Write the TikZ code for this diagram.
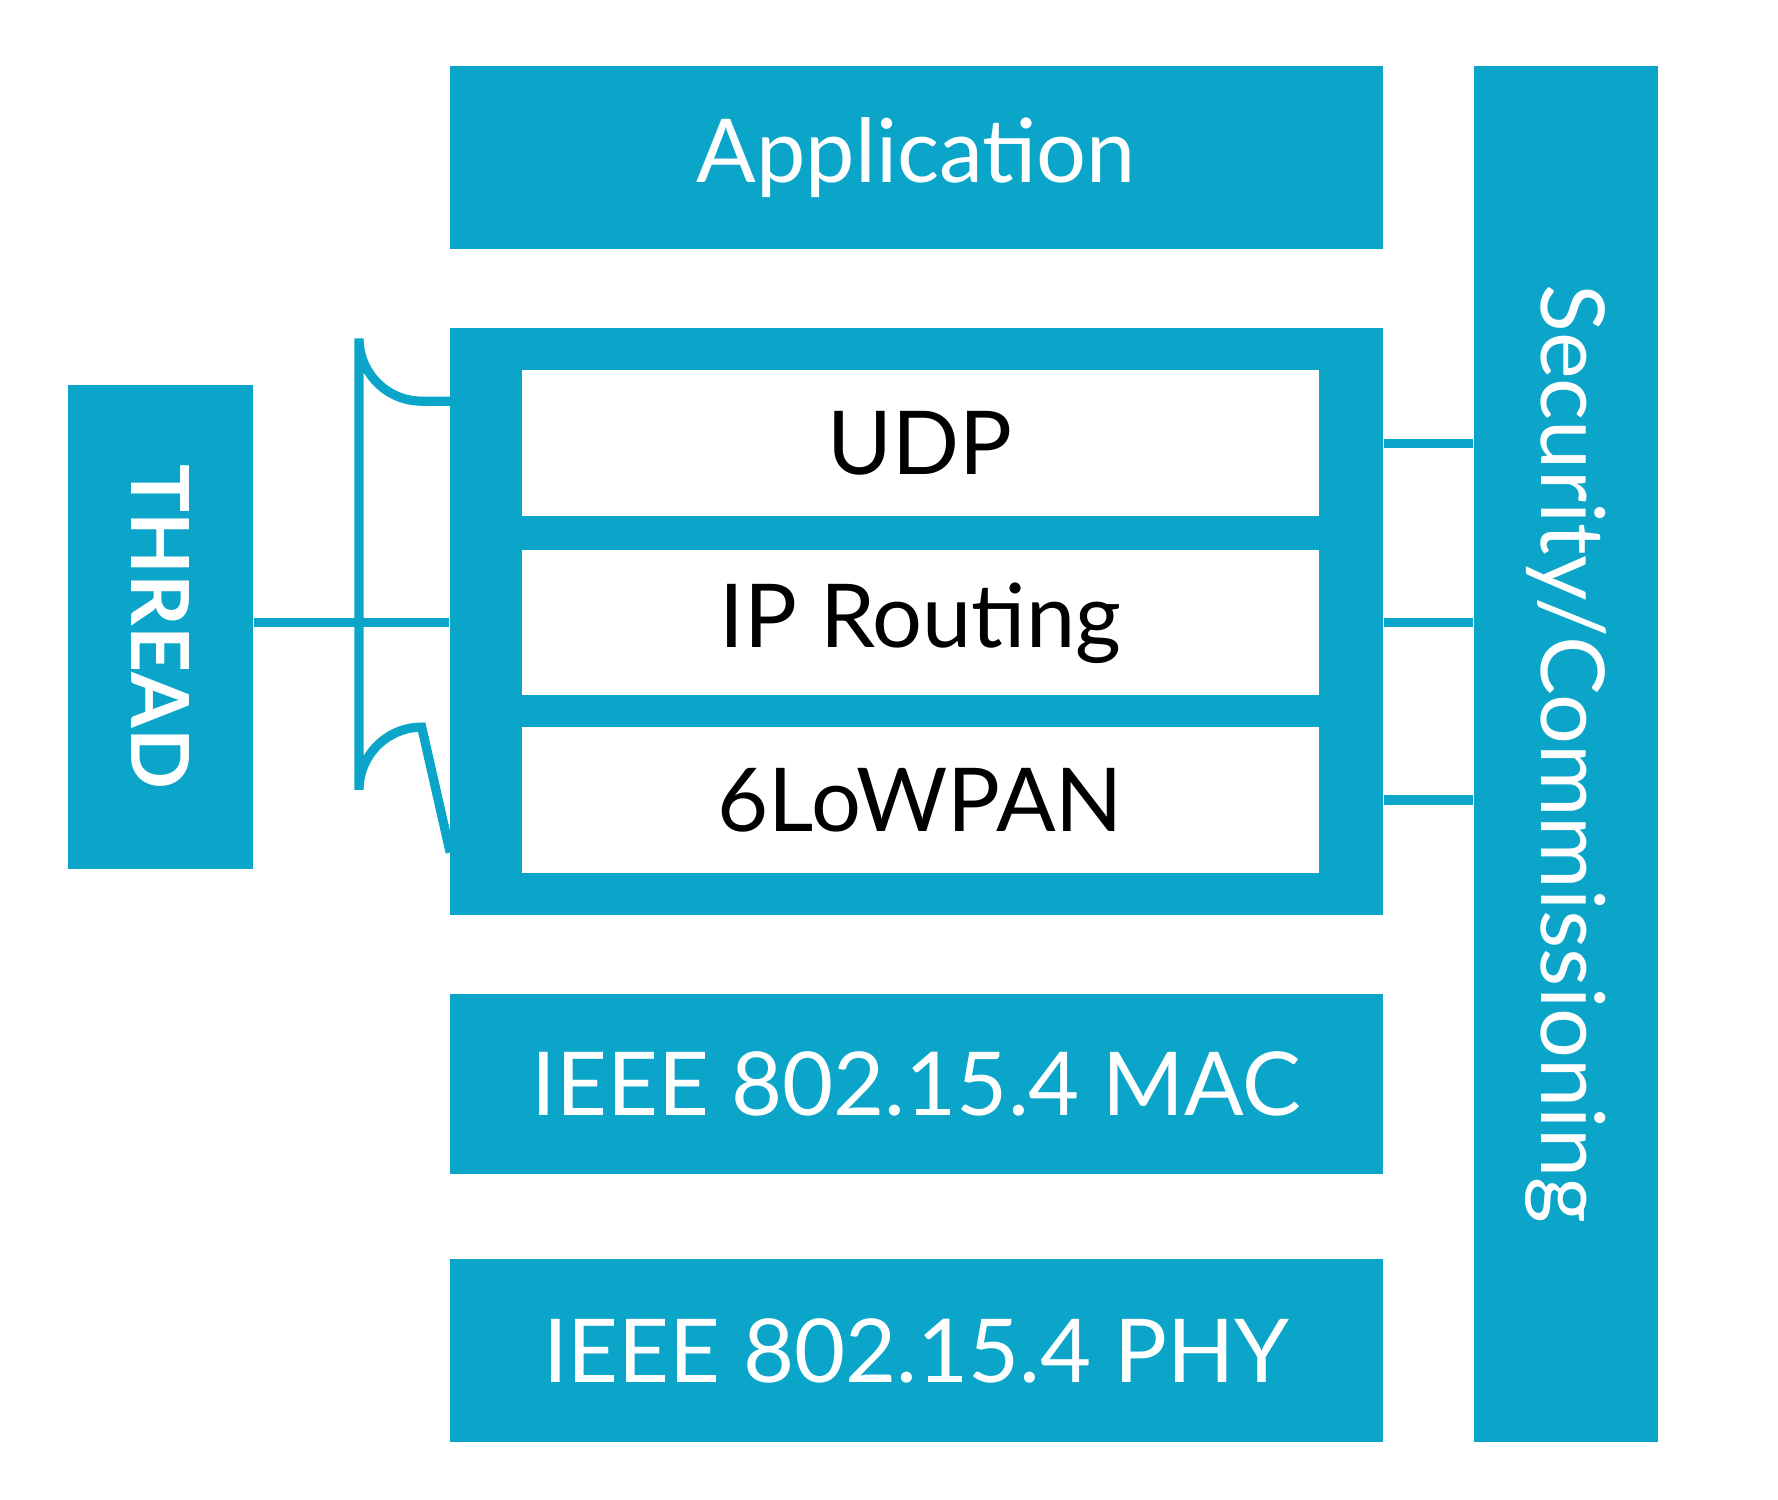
\documentclass[tikz,border=0pt]{standalone}
\usepackage{fontspec}
\setmainfont{Lato}
\definecolor{tcyan}{HTML}{0AA5C8}
\tikzset{
  layer/.style={draw=none, fill=tcyan, text=white, inner sep=0pt, font=\fontsize{22}{24}\selectfont},
  inner/.style={draw=none, fill=white, text=black, inner sep=0pt, font=\fontsize{22}{24}\selectfont},
  link/.style={draw=tcyan, line width=2.3pt}
}
\begin{document}
\begin{tikzpicture}[x=0.01cm,y=-0.01cm]
\useasboundingbox (0,0) rectangle (1560,1316);
\node[layer, minimum width=8.18cm, minimum height=1.60cm] (app) at (804,138) {Application};
\node[layer, minimum width=8.18cm, minimum height=5.15cm] (core) at (804,545.5) {};
\node[inner, minimum width=6.99cm, minimum height=1.28cm] (udp) at (807.5,389) {UDP};
\node[inner, minimum width=6.99cm, minimum height=1.27cm] (ip) at (807.5,546.5) {IP Routing};
\node[inner, minimum width=6.99cm, minimum height=1.28cm] (lowpan) at (807.5,702) {6LoWPAN};
\node[layer, minimum width=8.18cm, minimum height=1.58cm] (mac) at (804,951) {IEEE 802.15.4 MAC};
\node[layer, minimum width=8.18cm, minimum height=1.60cm] (phy) at (804,1185) {IEEE 802.15.4 PHY};
\node[layer, minimum width=1.62cm, minimum height=12.07cm] (sec) at (1374,661.5) {};
\node[text=white, rotate=-90, font=\fontsize{22}{24}\selectfont] at (sec.center) {Security/Commissioning};
\node[layer, minimum width=1.62cm, minimum height=4.24cm] (thread) at (141,550) {};
\node[text=white, rotate=-90, font=\fontsize{20}{22}\selectfont\bfseries] at (thread.center) {THREAD};

\coordinate (ctop) at (395,352);
\coordinate (cbot) at (395,748);
\draw[link] (thread.east |- ip) -- (core.west |- ip);
\draw[link] (ctop) -- (370,352) arc (90:180:55) -- (315,693) arc (180:270:55) -- (cbot);
\draw[link] (core.east |- udp) -- (sec.west |- udp);
\draw[link] (core.east |- ip) -- (sec.west |- ip);
\draw[link] (core.east |- lowpan) -- (sec.west |- lowpan);
\end{tikzpicture}
\end{document}
